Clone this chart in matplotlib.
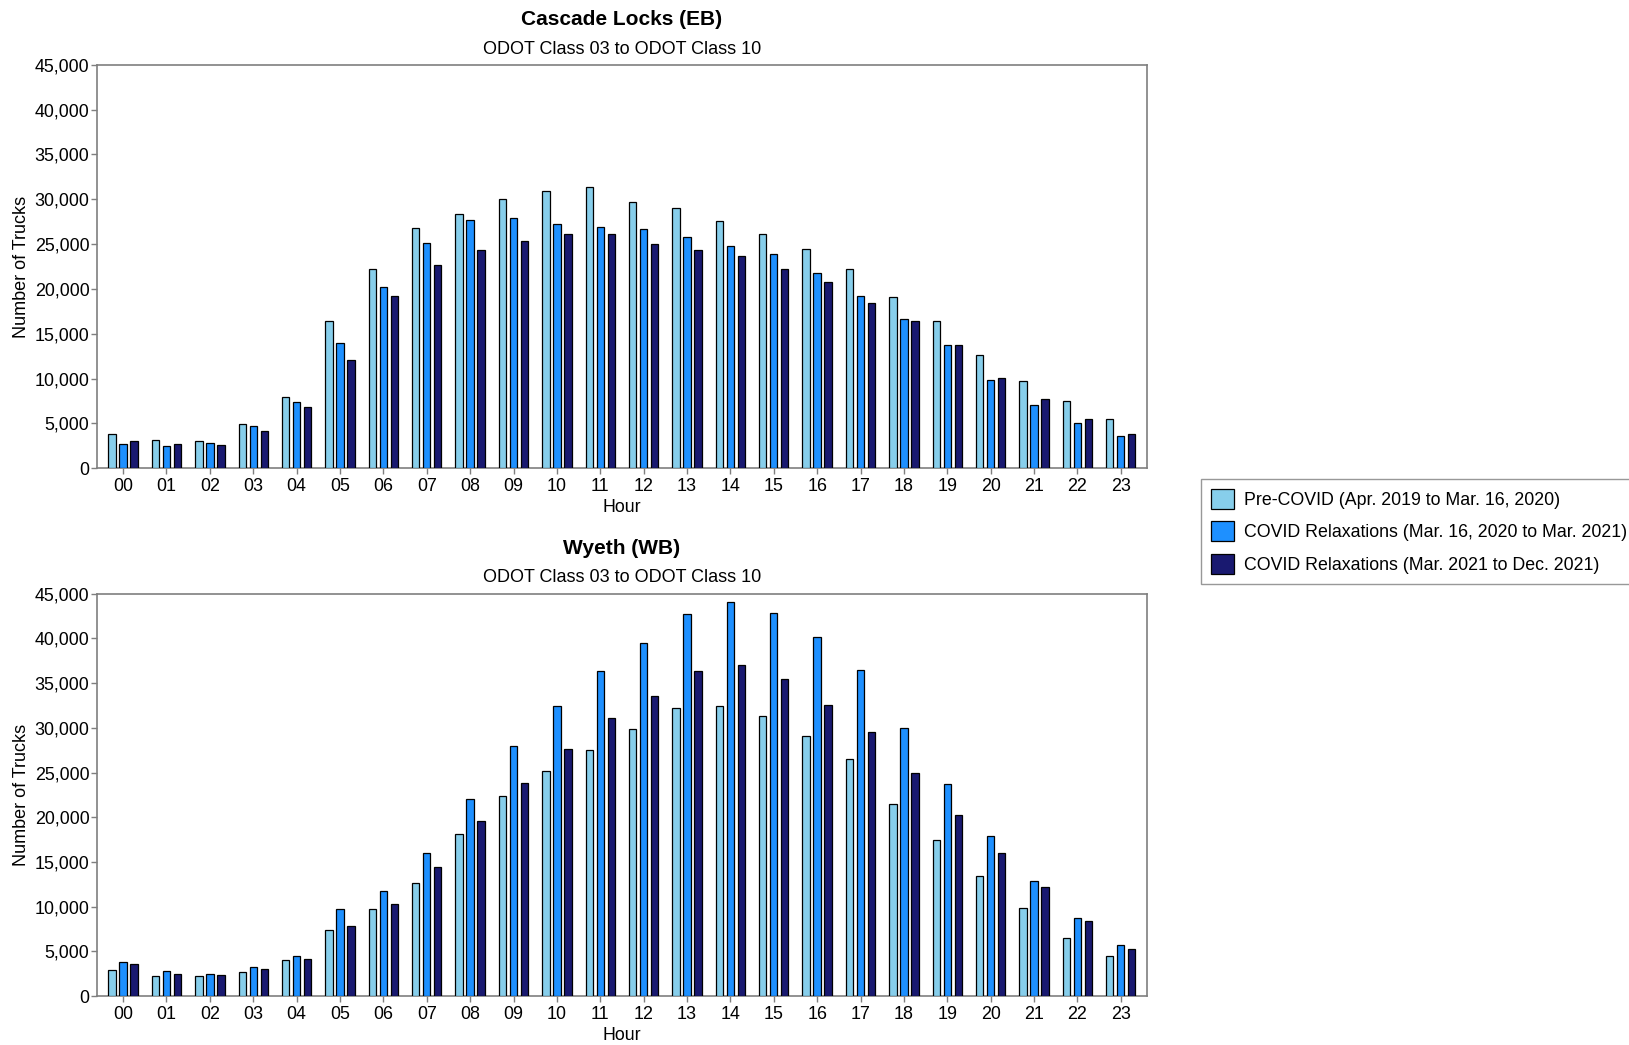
import numpy as np
import matplotlib
matplotlib.use("Agg")
import matplotlib.pyplot as plt
from matplotlib.patches import Patch

plt.rcParams['font.family'] = ['Liberation Sans', 'DejaVu Sans']

hours = [f"{h:02d}" for h in range(24)]

series_labels = [
    "Pre-COVID (Apr. 2019 to Mar. 16, 2020)",
    "COVID Relaxations (Mar. 16, 2020 to Mar. 2021)",
    "COVID Relaxations (Mar. 2021 to Dec. 2021)",
]
series_colors = ["#87CEEB", "#1E90FF", "#191970"]

# Cascade Locks (EB)
cascade_pre = [3840, 3170, 3050, 4880, 7970, 16470, 22170, 26830, 28320, 29990,
               30920, 31410, 29660, 29060, 27530, 26150, 24480, 22210, 19040, 16430,
               12630, 9690, 7490, 5510]
cascade_relax1 = [2680, 2460, 2830, 4690, 7340, 14000, 20230, 25110, 27650, 27870,
                  27270, 26940, 26710, 25820, 24810, 23850, 21800, 19230, 16650, 13790,
                  9840, 7080, 5030, 3610]
cascade_relax2 = [2980, 2650, 2570, 4140, 6780, 12030, 19190, 22620, 24370, 25370,
                  26080, 26080, 24960, 24290, 23700, 22170, 20750, 18480, 16430, 13790,
                  10100, 7670, 5510, 3840]

# Wyeth (WB)
wyeth_pre = [2910, 2270, 2270, 2720, 4100, 7450, 9720, 12670, 18110, 22430,
             25190, 27500, 29810, 32230, 32450, 31370, 29060, 26490, 21460, 17510,
             13410, 9870, 6560, 4510]
wyeth_relax1 = [3840, 2790, 2500, 3280, 4510, 9690, 11770, 16060, 22020, 27940,
                32450, 36360, 39530, 42700, 44110, 42880, 40090, 36510, 29920, 23770,
                17920, 12930, 8720, 5770]
wyeth_relax2 = [3580, 2500, 2350, 3020, 4140, 7900, 10320, 14490, 19600, 23840,
                27680, 31110, 33570, 36360, 36960, 35470, 32560, 29580, 24890, 20270,
                16060, 12150, 8420, 5290]

panels = [
    ("Cascade Locks (EB)", [cascade_pre, cascade_relax1, cascade_relax2]),
    ("Wyeth (WB)", [wyeth_pre, wyeth_relax1, wyeth_relax2]),
]
subtitle = "ODOT Class 03 to ODOT Class 10"

FIG_H_PX = 1045
fig = plt.figure(figsize=(16.29, 10.45), dpi=100)
ax_rects = [
    [0.0596, 0.552, 0.6444, 0.386],
    [0.0596, 0.0467, 0.6444, 0.3853],
]

x = np.arange(len(hours))
offset = 0.254
width = 0.17
spine_color = "#7f7f7f"

for (title, data), rect in zip(panels, ax_rects):
    ax = fig.add_axes(rect)
    for i, (vals, color) in enumerate(zip(data, series_colors)):
        ax.bar(x + (i - 1) * offset, vals, width=width, color=color,
               edgecolor="black", linewidth=0.9, zorder=3)
    ax.set_xlim(-0.6, 23.6)
    ax.set_ylim(0, 45000)
    ax.set_yticks(np.arange(0, 45001, 5000))
    ax.set_yticklabels([f"{v:,}" for v in range(0, 45001, 5000)])
    ax.set_xticks(x)
    ax.set_xticklabels(hours)
    ax.tick_params(axis="both", labelsize=12.9, color=spine_color, length=4,
                   width=1, labelcolor="black")
    ax.tick_params(axis="y", pad=1.5)
    ax.tick_params(axis="x", pad=3)
    for s in ax.spines.values():
        s.set_color(spine_color)
        s.set_linewidth(1.2)
    ax.set_ylabel("Number of Trucks", fontsize=13, labelpad=3)
    ax.set_xlabel("Hour", fontsize=12.8, labelpad=3)
    ax.set_title(subtitle, fontsize=13, pad=8)
    ax.text(0.5, 1.0 + 36 / (rect[3] * FIG_H_PX), title, transform=ax.transAxes,
            ha="center", va="bottom", fontsize=15, fontweight="bold")

handles = [Patch(facecolor=c, edgecolor="black", linewidth=0.9) for c in series_colors]
leg = fig.legend(handles, series_labels, loc="center left",
                 bbox_to_anchor=(0.7372, 0.4915), borderaxespad=0,
                 fontsize=12.8, frameon=True, fancybox=False,
                 edgecolor=spine_color, handlelength=1.3, handleheight=1.35,
                 handletextpad=0.6, borderpad=0.55, labelspacing=0.7)
leg.get_frame().set_linewidth(1.0)

fig.savefig("out.png", dpi=100, facecolor="white")
